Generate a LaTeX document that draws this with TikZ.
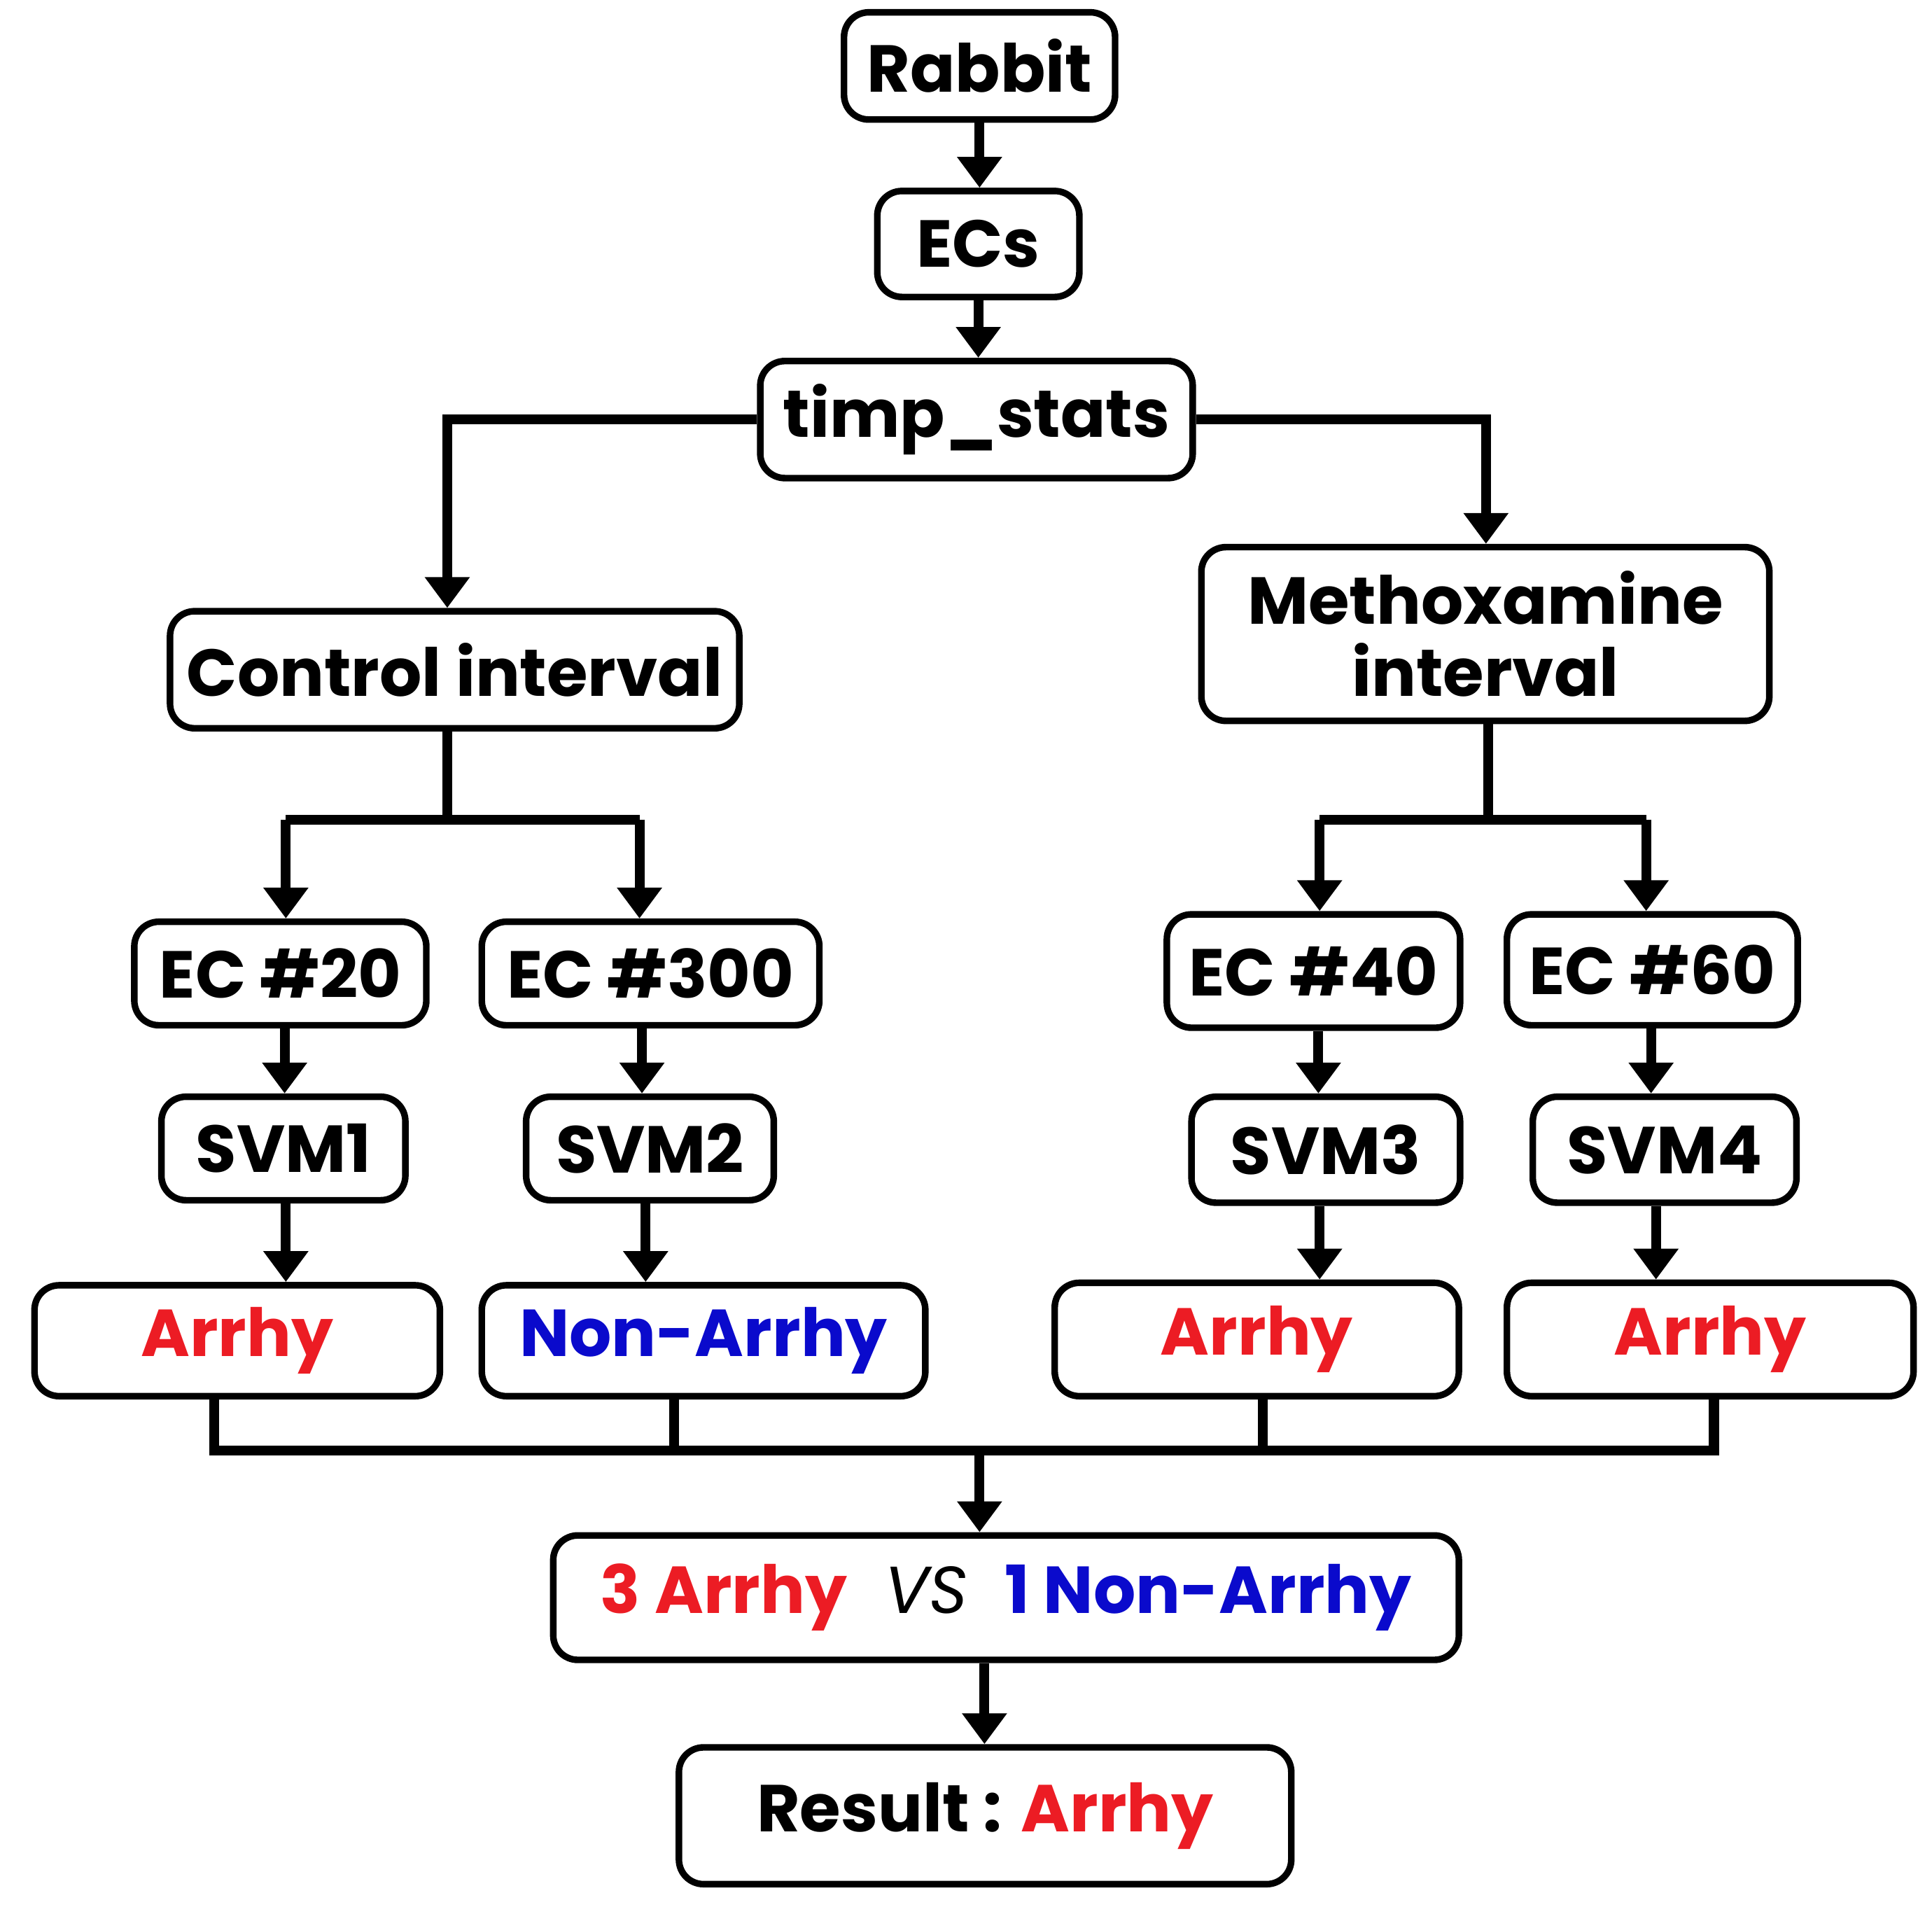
\documentclass[tikz,border=0pt]{standalone}
\usepackage{fontspec}
\setmainfont{Poppins}
\usetikzlibrary{arrows.meta}
\definecolor{rr}{HTML}{EC1C24}
\definecolor{bb}{HTML}{0A0ACC}
\newcommand{\bx}[6]{\node[box,minimum width={(#4-#2)*0.3mm},minimum height={(#5-#3)*0.3mm}] (#1) at ({(#2+#4)/2},{(#3+#5)/2}) {#6};}
\begin{document}
\begin{tikzpicture}[x=0.3mm,y=-0.3mm,
 box/.style={draw,line width=1.6mm,rounded corners=6mm,inner sep=0pt,font=\fontsize{46}{50}\selectfont\bfseries,align=center},
 ln/.style={line width=2.4mm},
 arr/.style={ln,-{Triangle[width=10.5mm,length=7.5mm]}}]
\useasboundingbox (0,0) rectangle (1568,1553);
\bx{rabbit}{685}{10}{905}{97}{Rabbit}
\bx{ecs}{712}{155}{876}{241}{ECs}
\bx{timp}{617}{293}{968}{388}{timp\_stats}
\bx{ctrl}{138}{496}{600}{591}{Control interval}
\bx{meth}{975}{444}{1436}{585}{Methoxamine\\interval}
\bx{ec20}{109}{748}{346}{832}{EC \#20}
\bx{ec300}{391}{748}{665}{832}{EC \#300}
\bx{ec40}{947}{742}{1185}{834}{EC \#40}
\bx{ec60}{1223}{742}{1459}{832}{EC \#60}
\bx{s1}{131}{890}{329}{974}{SVM1}
\bx{s2}{427}{890}{628}{974}{SVM2}
\bx{s3}{967}{890}{1185}{976}{SVM3}
\bx{s4}{1244}{890}{1458}{976}{SVM4}
\bx{r1}{28}{1043}{357}{1133}{\color{rr}Arrhy}
\bx{r2}{391}{1043}{751}{1133}{\color{bb}Non-Arrhy}
\bx{r3}{856}{1041}{1184}{1133}{\color{rr}Arrhy}
\bx{r4}{1223}{1041}{1553}{1133}{\color{rr}Arrhy}
\bx{vote}{449}{1246}{1184}{1347}{\color{rr}3 Arrhy\hspace{9mm}{\mdseries\itshape\color{black}VS}\hspace{9mm}\color{bb}1 Non-Arrhy}
\bx{res}{551}{1418}{1048}{1529}{Result : \color{rr}Arrhy}
\draw[arr] (rabbit.south) -- (rabbit.south |- ecs.north);
\draw[arr] (ecs.south) -- (ecs.south |- timp.north);
\coordinate (cl) at (363,596); \coordinate (mr) at (1206,440);
\draw[arr] (timp.west) -| (cl |- ctrl.north);
\draw[arr] (timp.east) -| (mr |- meth.north);
\coordinate (cj) at (363,665); \coordinate (mj) at (1208,665);
\draw[ln] (cl |- ctrl.south) -- (cj);
\draw[ln] (mj |- meth.south) -- (mj);
\draw[arr] (232,665) -- (232,665 |- ec20.north);
\draw[ln] (232,665) -- (519,665);
\draw[arr] (519,665) -- (519,665 |- ec300.north);
\draw[arr] (1071,665) -- (1071,665 |- ec40.north);
\draw[ln] (1071,665) -- (1336,665);
\draw[arr] (1336,665) -- (1336,665 |- ec60.north);
\foreach \a/\b/\x in {ec20/s1/231,ec300/s2/521,ec40/s3/1070,ec60/s4/1340}
  \draw[arr] (\x,0 |- \a.south) -- (\x,0 |- \b.north);
\foreach \a/\b/\x in {s1/r1/232,s2/r2/524,s3/r3/1071,s4/r4/1344}
  \draw[arr] (\x,0 |- \a.south) -- (\x,0 |- \b.north);
\coordinate (bj) at (795,1177);
\draw[ln] (174,0 |- r1.south) -- (174,1177) -- (1391,1177) -- (1391,0 |- r4.south);
\draw[ln] (547,0 |- r2.south) -- (547,1177);
\draw[ln] (1025,0 |- r3.south) -- (1025,1177);
\draw[arr] (bj) -- (bj |- vote.north);
\draw[arr] (799,0 |- vote.south) -- (799,0 |- res.north);
\end{tikzpicture}
\end{document}
